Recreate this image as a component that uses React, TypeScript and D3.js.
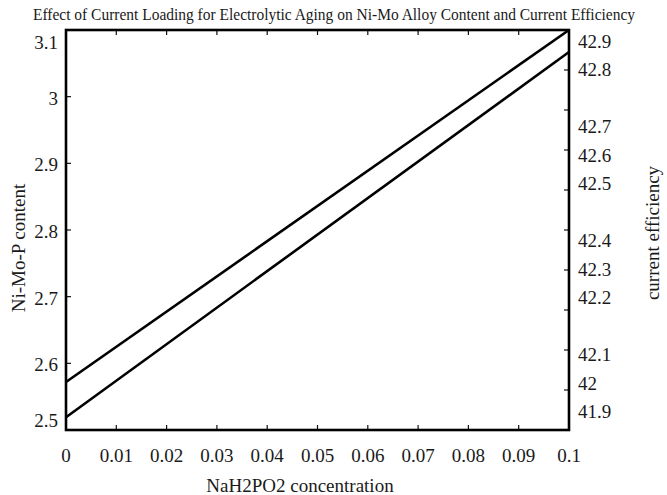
import React, { useEffect, useRef } from "react";
import * as d3 from "d3";

// values
const concentration = [0, 0.1];
const contentValues = [2.572, 3.1];
const efficiencyValues = [41.886, 42.873];

const xTicks = [0, 0.01, 0.02, 0.03, 0.04, 0.05, 0.06, 0.07, 0.08, 0.09, 0.1];
const leftTicks = [2.5, 2.6, 2.7, 2.8, 2.9, 3.0, 3.1];
// right labels sit on their own (unrounded) positions
const rightTickValues = [41.9, 41.977, 42.054, 42.208, 42.285, 42.362, 42.515, 42.592, 42.669, 42.823, 42.9];

const FONT = "Liberation Serif, Times New Roman, serif";

const App = () => {
  const svgRef = useRef<SVGSVGElement>(null);

  useEffect(() => {
    const svg = d3.select(svgRef.current);
    svg.selectAll("*").remove();

    const left = 66, right = 569, top = 30, bottom = 430;

    const x = d3.scaleLinear().domain([0, 0.1]).range([left, right]);
    const yLeft = d3.scaleLinear().domain([2.5, 3.1]).range([bottom, top]);
    const yRight = d3.scaleLinear().domain([41.9, 42.9]).range([412, 42]);
    const rightMarks = d3.scaleLinear().domain([0, 10]).range([bottom, top]);

    // title
    svg
      .append("text")
      .attr("x", 334)
      .attr("y", 20)
      .attr("text-anchor", "middle")
      .attr("font-family", FONT)
      .attr("font-size", 16)
      .attr("textLength", 602)
      .attr("lengthAdjust", "spacingAndGlyphs")
      .attr("fill", "#1a1a1a")
      .text("Effect of Current Loading for Electrolytic Aging on Ni-Mo Alloy Content and Current Efficiency");

    const g = svg.append("g");

    // ticks (inward)
    xTicks.forEach((t) => {
      g.append("line").attr("x1", x(t)).attr("x2", x(t)).attr("y1", bottom).attr("y2", bottom - 5)
        .attr("stroke", "#111").attr("stroke-width", 1.2);
      g.append("line").attr("x1", x(t)).attr("x2", x(t)).attr("y1", top).attr("y2", top + 5)
        .attr("stroke", "#111").attr("stroke-width", 1.2);
    });
    leftTicks.forEach((t) => {
      g.append("line").attr("x1", left).attr("x2", left + 5).attr("y1", yLeft(t)).attr("y2", yLeft(t))
        .attr("stroke", "#111").attr("stroke-width", 1.2);
    });
    d3.range(11).forEach((i) => {
      g.append("line").attr("x1", right).attr("x2", right - 5).attr("y1", rightMarks(i)).attr("y2", rightMarks(i))
        .attr("stroke", "#111").attr("stroke-width", 1.2);
    });

    // tick labels
    g.selectAll(".xl")
      .data(xTicks)
      .enter()
      .append("text")
      .attr("x", (d) => x(d))
      .attr("y", 462)
      .attr("text-anchor", "middle")
      .attr("font-family", FONT)
      .attr("font-size", 19)
      .attr("fill", "#1a1a1a")
      .text((d) => String(d));

    g.selectAll(".yl")
      .data(leftTicks)
      .enter()
      .append("text")
      .attr("x", 58)
      .attr("y", (d) => Math.min(421, Math.max(43, yLeft(d) + 2)) + 6)
      .attr("text-anchor", "end")
      .attr("font-family", FONT)
      .attr("font-size", 19)
      .attr("fill", "#1a1a1a")
      .text((d) => String(+d.toFixed(1)));

    g.selectAll(".yr")
      .data(rightTickValues)
      .enter()
      .append("text")
      .attr("x", 578)
      .attr("y", (d) => yRight(d) + 6)
      .attr("text-anchor", "start")
      .attr("font-family", FONT)
      .attr("font-size", 19)
      .attr("fill", "#1a1a1a")
      .text((d) => String(+d.toFixed(1)));

    // data lines
    const contentLine = d3.line<number>().x((d, i) => x(concentration[i])).y((d) => yLeft(d));
    const effLine = d3.line<number>().x((d, i) => x(concentration[i])).y((d) => yRight(d));

    g.append("path").attr("d", contentLine(contentValues)!).attr("fill", "none")
      .attr("stroke", "#000").attr("stroke-width", 2.6);
    g.append("path").attr("d", effLine(efficiencyValues)!).attr("fill", "none")
      .attr("stroke", "#000").attr("stroke-width", 2.6);

    // frame
    g.append("rect")
      .attr("x", left)
      .attr("y", top)
      .attr("width", right - left)
      .attr("height", bottom - top)
      .attr("fill", "none")
      .attr("stroke", "#000")
      .attr("stroke-width", 2.6);

    // axis titles
    svg
      .append("text")
      .attr("x", 300)
      .attr("y", 492)
      .attr("text-anchor", "middle")
      .attr("font-family", FONT)
      .attr("font-size", 19)
      .attr("fill", "#1a1a1a")
      .text("NaH2PO2 concentration");

    svg
      .append("text")
      .attr("transform", "translate(25,248) rotate(-90)")
      .attr("text-anchor", "middle")
      .attr("font-family", FONT)
      .attr("font-size", 19)
      .attr("fill", "#1a1a1a")
      .text("Ni-Mo-P content");

    svg
      .append("text")
      .attr("transform", "translate(659,233) rotate(-90)")
      .attr("text-anchor", "middle")
      .attr("font-family", FONT)
      .attr("font-size", 19)
      .attr("fill", "#1a1a1a")
      .text("current efficiency");
  }, []);

  return (
    <div style={{ position: "absolute", left: 0, top: 0, background: "#fff" }}>
      <svg ref={svgRef} width={667} height={495} style={{ display: "block" }} />
    </div>
  );
};

export default App;
